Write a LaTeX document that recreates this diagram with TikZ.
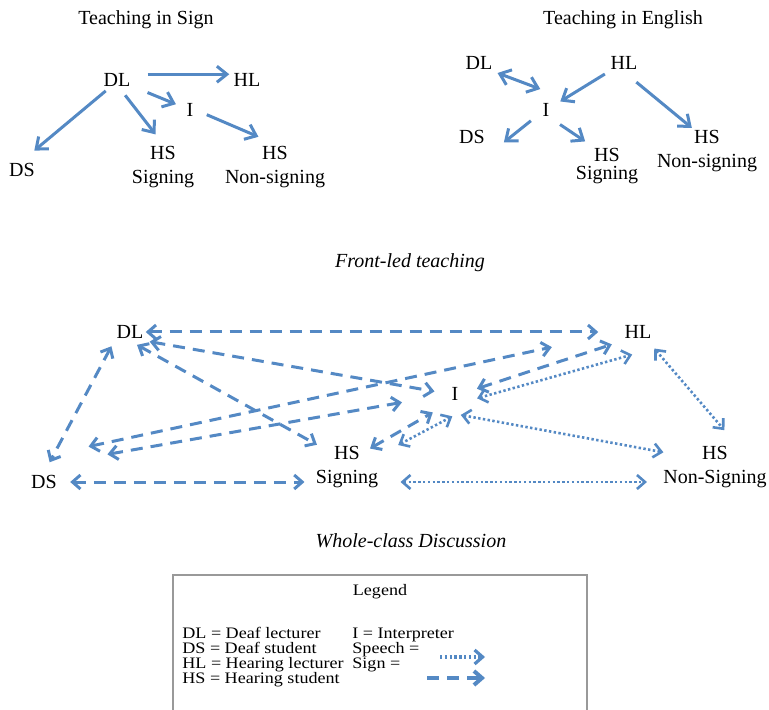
\documentclass[tikz,border=0pt]{standalone}
\usepackage{fontspec}
\setmainfont{Liberation Serif}
\newfontfamily\legendfont{Liberation Serif}[FakeStretch=1.13]
\usetikzlibrary{arrows.meta}
\usetikzlibrary{positioning}
\definecolor{lineBlue}{RGB}{84,137,196}

\begin{document}
\begin{tikzpicture}
[x=0.5pt,y=-0.5pt,%
  labelDecorate/.style={inner sep=1pt,font=\fontsize{10}{12}\selectfont},%
  titleDecorate/.style={anchor=base,inner sep=0pt,font=\fontsize{10}{12}\selectfont},%
  legendDecorate/.style={anchor=base west,inner sep=0pt,font=\legendfont\fontsize{8}{9}\selectfont},%
  lineDecorate/.style={>={Straight Barb[length=5pt,width=8pt]},->,line width=1.5pt,draw=lineBlue},%
  signDecorate/.style={>={Straight Barb[length=4pt,width=7pt]},<->,line width=1.5pt,dash pattern=on 6pt off 4pt,draw=lineBlue},%
  speechDecorate/.style={>={Straight Barb[length=4pt,width=7pt]},<->,line width=1.3pt,dash pattern=on 1.2pt off 1.2pt,draw=lineBlue},%
  boxDecorate/.style={draw=black!40,line width=1pt}]
\useasboundingbox (0,0) rectangle (769,710);
%% titles
\node[titleDecorate] (signTitle) at (146,25) {Teaching in Sign};
\node[titleDecorate] (englishTitle) at (623,25) {Teaching in English};
\node[titleDecorate,font=\fontsize{10}{12}\selectfont\itshape] (frontTitle) at (410,268) {Front-led teaching};
\node[titleDecorate,font=\fontsize{10}{12}\selectfont\itshape] (wholeTitle) at (411,547) {Whole-class Discussion};
%% nodes
\foreach \nodename/\x/\y/\txt in {
  sDL/117/80/DL, sHL/247/80/HL, sI/190/110/I, sDS/22/170/DS,
  sHS/163/153/HS, sHSn/275/153/HS,
  eDL/479/63/DL, eHL/624/63/HL, eI/546/110/I, eDS/472/137/DS,
  eHS/607/155/HS, eHSn/707/137/HS,
  wDL/130/332/DL, wHL/638/332/HL, wI/455/394/I, wDS/44/482/DS,
  wHS/347/453/HS, wHSn/715/453/HS}
{
  \node[labelDecorate] (\nodename) at (\x,\y) {\txt};
}
\node[labelDecorate,below=3pt of sHS] (sSig) {Signing};
\node[labelDecorate,below=3pt of sHSn] (sNon) {Non-signing};
\node[labelDecorate,below=0pt of eHS] (eSig) {Signing};
\node[labelDecorate,below=3pt of eHSn] (eNon) {Non-signing};
\node[labelDecorate,below=3pt of wHS] (wSig) {Signing};
\node[labelDecorate,below=3pt of wHSn] (wNon) {Non-Signing};
%% teaching in sign
\path
(sDL.20) edge[lineDecorate,shorten <=7.5pt,shorten >=1pt] (sHL.160)
(sDL) edge[lineDecorate,shorten <=8pt,shorten >=4.5pt] (sI)
(sDL.-135) edge[lineDecorate,shorten <=1.5pt,shorten >=8pt] (sDS.north)
(sDL.-70) edge[lineDecorate,shorten <=4pt,shorten >=6pt] (sHS.north)
(sI.east) edge[lineDecorate,shorten <=6pt,shorten >=9pt] (sHSn.north);
%% teaching in english
\path
(eDL.south east) edge[lineDecorate,<->,shorten <=1.5pt] ([yshift=6pt]eI.north west)
(eHL.south west) edge[lineDecorate,shorten <=2pt,shorten >=5pt] (eI.30)
(eI.-150) edge[lineDecorate,shorten <=6pt,shorten >=3pt] ([xshift=6pt]eDS.south east)
(eI.south east) edge[lineDecorate,shorten <=5pt,shorten >=4pt] (eHS.north west)
(eHL.south) edge[lineDecorate,shorten <=8pt] (eHSn.north west);
%% whole class: sign
\path
(wDL.east) edge[signDecorate,shorten >=12pt] (wHL.west)
(wDL.south east) edge[signDecorate,shorten <=2pt,shorten >=7.5pt] (wI.west)
(wDL.south) edge[signDecorate,shorten <=4pt,shorten >=8.5pt] (wHS.west)
(wDL.south west) edge[signDecorate,shorten <=3pt,shorten >=6pt] (wDS.north)
([yshift=10pt]wDS.north east) edge[signDecorate,shorten <=15pt,shorten >=36pt] (wHL.west)
([yshift=5pt]wDS.north east) edge[signDecorate,shorten <=24.5pt,shorten >=24pt] (wI.west)
(wDS.east) edge[signDecorate,shorten <=5.5pt,shorten >=4.5pt] (wDS.east -| wSig.west)
(wHS.east) edge[signDecorate,shorten <=4.5pt,shorten >=9.5pt] (wI.south west)
(wI.east) edge[signDecorate,shorten <=8.5pt,shorten >=5.5pt] (wHL.south west);
%% whole class: speech
\path
(wI.south east) edge[speechDecorate,shorten <=8.5pt,shorten >=3pt] ([yshift=-6pt]wHL.south)
([shift={(18pt,4pt)}]wHS.east) edge[speechDecorate,shorten >=1.5pt] ([yshift=-6pt]wI.south)
([yshift=-6pt]wI.south east) edge[speechDecorate,shorten >=18.5pt] ([yshift=-3pt]wHSn.west)
([xshift=-3pt]wHL.south east) edge[speechDecorate,shorten <=5pt,shorten >=9pt] ([xshift=3pt]wHSn.north east)
(wSig.east |- wDS.east) edge[speechDecorate,shorten <=10pt,shorten >=7pt] (wNon.west |- wDS.east);
%% legend
\draw[boxDecorate] (173,575) rectangle (587,720);
\node[titleDecorate,font=\legendfont\fontsize{8}{9}\selectfont] (legendTitle) at (380,595) {Legend};
\foreach \nodename/\x/\y/\txt in {
  keyDL/182/638/{DL = Deaf lecturer}, keyDS/182/653/{DS = Deaf student},
  keyHL/182/668/{HL = Hearing lecturer}, keyHS/182/683/{HS = Hearing student},
  keyI/352/638/{I = Interpreter}, keySpeech/352/653/{Speech =},
  keySign/352/668/{Sign =}}
{
  \node[legendDecorate] (\nodename) at (\x,\y) {\txt};
}
\coordinate (speechA) at (440,657);
\coordinate (speechB) at (485,657);
\coordinate (signA) at (427,678);
\coordinate (signB) at (485,678);
\draw[speechDecorate,->,line width=1.6pt] (speechA) -- (speechB);
\draw[signDecorate,->,line width=2pt] (signA) -- (signB);
\end{tikzpicture}
\end{document}
